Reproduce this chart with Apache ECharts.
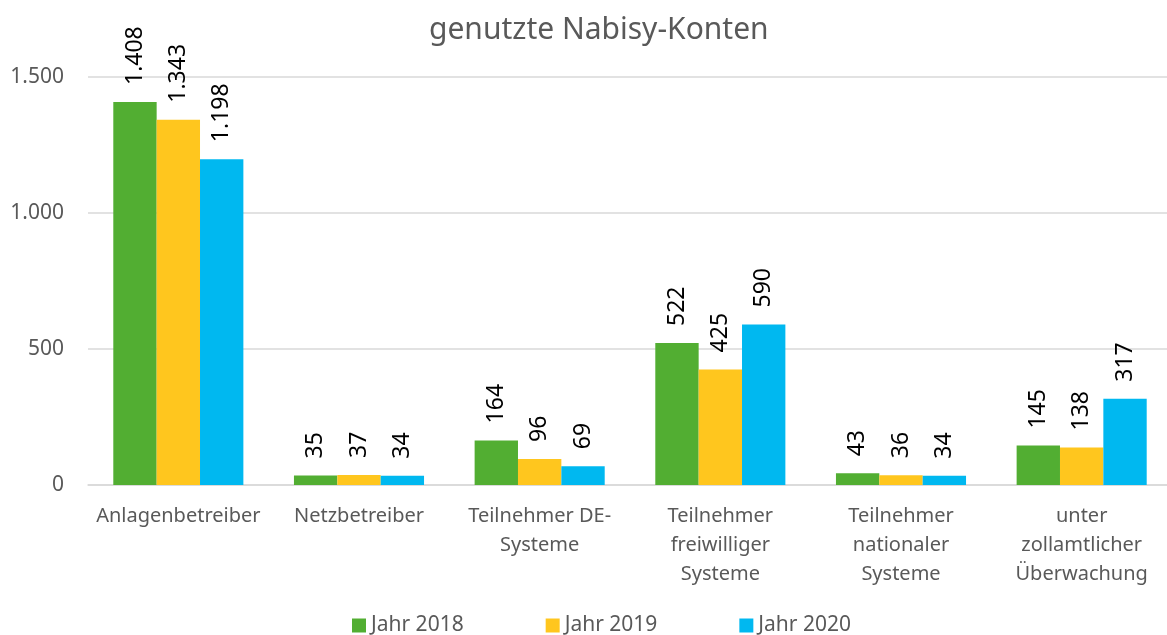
<!DOCTYPE html>
<html><head><meta charset="utf-8">
<script src="https://cdn.jsdelivr.net/npm/echarts@6/dist/echarts.min.js"></script>
<style>html,body{margin:0;padding:0;background:#fff}#c{width:1167px;height:635px}</style>
</head><body><div id="c"></div>
<script>
const categories = ["Anlagenbetreiber","Netzbetreiber","Teilnehmer DE-\nSysteme","Teilnehmer\nfreiwilliger\nSysteme","Teilnehmer\nnationaler\nSysteme","unter\nzollamtlicher\nÜberwachung"];
const seriesNames = ["Jahr 2018","Jahr 2019","Jahr 2020"];
const v2018 = [1408,35,164,522,43,145];
const v2019 = [1343,37,96,425,36,138];
const v2020 = [1198,34,69,590,34,317];
const colors = ["#52AE32","#FFC61E","#00B8F0"];
const fmt = v => String(v).replace(/\B(?=(\d{3})+(?!\d))/g, ".");
const font = "Noto Sans";
const mk = (name, data, color) => ({
  name, type: "bar", data, barGap: "0%", barCategoryGap: "28%",
  itemStyle: { color },
  label: { show: true, position: "top", rotate: 90, align: "left", verticalAlign: "middle", distance: 17,
    color: "#000", fontSize: 23, fontFamily: font, formatter: p => fmt(p.value) }
});
const chart = echarts.init(document.getElementById("c"), null, {renderer: "canvas"});
chart.setOption({
  animation: false,
  title: { text: "genutzte Nabisy-Konten", left: 424, top: 10,
    textStyle: { color: "#595959", fontSize: 30, fontWeight: "normal", fontFamily: font } },
  grid: { left: 88, width: 1084, top: 77, height: 408, outerBoundsMode: "none", containLabel: false },
  legend: { top: 610, left: 347, itemWidth: 14, itemHeight: 14, itemGap: 82, icon: "rect",
    textStyle: { color: "#595959", fontSize: 21, fontFamily: font } },
  xAxis: { type: "category", data: categories,
    axisLine: { lineStyle: { color: "#d9d9d9", width: 1.5 } }, axisTick: { show: false },
    axisLabel: { color: "#595959", fontSize: 20, fontFamily: font, lineHeight: 29, margin: 17, interval: 0 } },
  yAxis: { type: "value", min: 0, max: 1500, interval: 500,
    axisLine: { show: false }, axisTick: { show: false },
    splitLine: { lineStyle: { color: "#d9d9d9", width: 1.5 } },
    axisLabel: { color: "#595959", fontSize: 21, fontFamily: font, margin: 24, formatter: v => fmt(v) } },
  series: [mk(seriesNames[0], v2018, colors[0]), mk(seriesNames[1], v2019, colors[1]), mk(seriesNames[2], v2020, colors[2])]
});
</script></body></html>
